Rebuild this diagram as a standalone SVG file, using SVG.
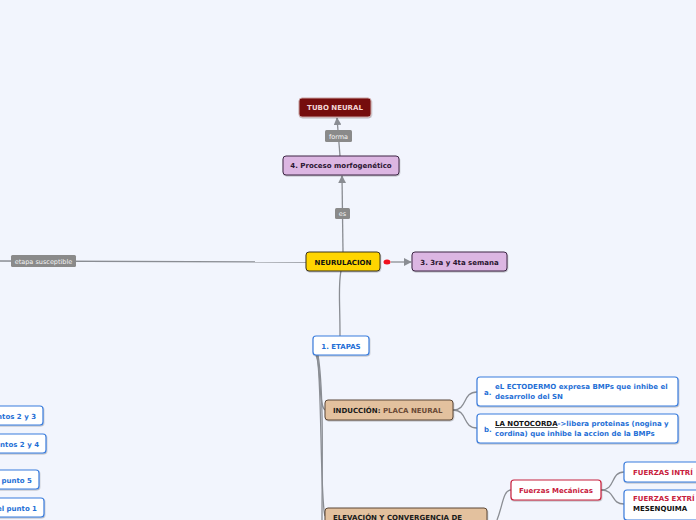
<svg xmlns="http://www.w3.org/2000/svg" width="696" height="520" viewBox="0 0 696 520">
<defs>
<style>
text{font-family:"DejaVu Sans","Verdana",sans-serif;font-weight:bold;font-size:7px}
.conn{fill:none;stroke:#8a8d93;stroke-width:1.3}
.lbl rect{fill:#8a8a8a}
.lbl text{fill:#f4f4f4;font-weight:normal;font-size:6.5px}
.blue{fill:#fff;stroke:#3b7ddd;stroke-width:1.2}
.tan{fill:#e3c19e;stroke:#5b4636;stroke-width:1}
.purple{fill:#dcb6e2;stroke:#3c2644;stroke-width:1}
.bt{fill:#1f6fd6}
</style>
<marker id="arr" viewBox="0 0 10 10" refX="9" refY="5" markerWidth="6" markerHeight="6" orient="auto-start-reverse">
<path d="M0,0 L10,5 L0,10 z" fill="#8a8d93"/>
</marker>
<filter id="sh" x="-10%" y="-20%" width="120%" height="150%">
<feDropShadow dx="0.5" dy="1" stdDeviation="0.6" flood-color="#000" flood-opacity="0.25"/>
</filter>
</defs>
<rect width="696" height="520" fill="#f2f5fd"/>
<g id="connectors">
<path class="conn" d="M343,252 L342,176" marker-end="url(#arr)"/>
<path class="conn" d="M340,156 L337,118" marker-end="url(#arr)"/>
<path class="conn" d="M0,261 L306,262"/>
<path class="conn" d="M391,262 L411,262" marker-end="url(#arr)"/>
<path class="conn" d="M341,271 C338,285 340,300 340,336"/>
<path class="conn" d="M316,355 C322,370 318,405 325,410"/>
<path class="conn" d="M317,355 C322,380 320,500 325,516"/>
<path class="conn" d="M318,355 C324,390 322,470 322,520"/>
<path class="conn" d="M453,410 C468,410 462,392 477,392"/>
<path class="conn" d="M453,410 C468,410 462,428 477,428"/>
<path class="conn" d="M497,520 C503,505 503,490 511,490"/>
<path class="conn" d="M601,490 C616,490 610,472 624,472"/>
<path class="conn" d="M601,490 C616,490 610,504 624,504"/>
</g>
<g id="lbl-forma" class="lbl"><rect x="325" y="130" width="27" height="12" rx="1.5"/><text x="338.5" y="138.5" text-anchor="middle">forma</text></g>
<g id="lbl-es" class="lbl"><rect x="335" y="208" width="15" height="11" rx="1.5"/><text x="342.5" y="216" text-anchor="middle">es</text></g>
<g id="lbl-etapa" class="lbl"><rect x="11" y="255" width="65" height="12" rx="1.5"/><text x="43.5" y="263.5" text-anchor="middle">etapa susceptible</text></g>
<g id="n-tubo"><rect x="299" y="98" width="72" height="19" rx="3" fill="#740d0d" stroke="#c9a0a0" stroke-width="1" filter="url(#sh)"/><text x="335" y="110" text-anchor="middle" fill="#f3d6d6">TUBO NEURAL</text></g>
<g id="n-proceso"><rect class="purple" x="283" y="156" width="116" height="19" rx="3" filter="url(#sh)"/><text x="341" y="168" text-anchor="middle" fill="#2a1530">4. Proceso morfogenético</text></g>
<g id="n-neurulacion"><rect x="306" y="252" width="74" height="19" rx="3" fill="#ffd503" stroke="#3a3320" stroke-width="1" filter="url(#sh)"/><text x="343" y="264.5" text-anchor="middle" fill="#111">NEURULACION</text></g>
<g id="n-dot"><ellipse cx="387" cy="262" rx="3.5" ry="2.5" fill="#f0101e"/></g>
<g id="n-semana"><rect class="purple" x="412" y="252" width="95" height="19" rx="3" filter="url(#sh)"/><text x="459.5" y="264.5" text-anchor="middle" fill="#2a1530">3. 3ra y 4ta semana</text></g>
<g id="n-etapas"><rect class="blue" x="313" y="336" width="56" height="19" rx="3" filter="url(#sh)"/><text x="341" y="348.5" text-anchor="middle" class="bt">1. ETAPAS</text></g>
<g id="n-induccion"><rect class="tan" x="325" y="400" width="128" height="20" rx="3" filter="url(#sh)"/><text x="333" y="412.5" fill="#1a1a1a">INDUCCIÓN: <tspan fill="#6a4a36">PLACA NEURAL</tspan></text></g>
<g id="n-a"><rect class="blue" x="477" y="377" width="201" height="29" rx="3" filter="url(#sh)"/><text x="484" y="395" class="bt">a.</text><text x="495" y="389" class="bt">eL ECTODERMO expresa BMPs que inhibe el</text><text x="495" y="398.5" class="bt">desarrollo del SN</text></g>
<g id="n-b"><rect class="blue" x="477" y="414" width="201" height="29" rx="3" filter="url(#sh)"/><text x="484" y="432" class="bt">b.</text><text x="495" y="426" class="bt"><tspan fill="#111" text-decoration="underline">LA NOTOCORDA</tspan>-&gt;libera proteinas (nogina y</text><text x="495" y="435.5" class="bt">cordina) que inhibe la accion de la BMPs</text></g>
<g id="n-elevacion"><rect class="tan" x="325" y="508" width="162" height="20" rx="3" filter="url(#sh)"/><text x="333" y="520" fill="#1a1a1a">ELEVACIÓN Y CONVERGENCIA DE</text></g>
<g id="n-fuerzas"><rect x="511" y="480" width="90" height="20" rx="3" fill="#fff" stroke="#c8203c" stroke-width="1.2" filter="url(#sh)"/><text x="556" y="492.5" text-anchor="middle" fill="#c8203c">Fuerzas Mecánicas</text></g>
<g id="n-intri"><rect class="blue" x="624" y="462" width="80" height="20" rx="3" filter="url(#sh)"/><text x="633" y="474.5" fill="#c8203c">FUERZAS INTRÍ</text></g>
<g id="n-extri"><rect class="blue" x="624" y="490" width="80" height="30" rx="3" filter="url(#sh)"/><text x="633" y="501" fill="#c8203c">FUERZAS EXTRÍ</text><text x="633" y="511" fill="#111">MESENQUIMA</text></g>
<g id="n-l1"><rect class="blue" x="-20" y="406" width="63" height="19" rx="3" filter="url(#sh)"/><text x="36" y="418.5" text-anchor="end" class="bt">ntos 2 y 3</text></g>
<g id="n-l2"><rect class="blue" x="-20" y="434" width="66" height="19" rx="3" filter="url(#sh)"/><text x="39" y="446.5" text-anchor="end" class="bt">ntos 2 y 4</text></g>
<g id="n-l3"><rect class="blue" x="-20" y="470" width="59" height="19" rx="3" filter="url(#sh)"/><text x="32" y="482.5" text-anchor="end" class="bt">punto 5</text></g>
<g id="n-l4"><rect class="blue" x="-20" y="498" width="64" height="19" rx="3" filter="url(#sh)"/><text x="37" y="510.5" text-anchor="end" class="bt">el punto 1</text></g>
</svg>
